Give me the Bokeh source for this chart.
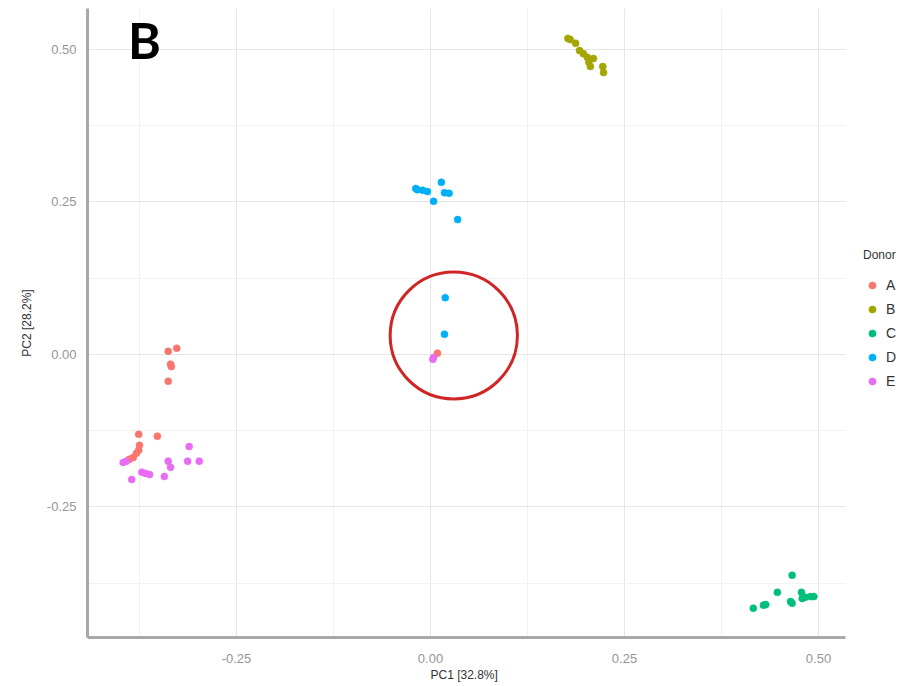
from bokeh.plotting import figure
from bokeh.models import (FixedTicker, NumeralTickFormatter, Legend, LegendItem,
                          Label, Range1d, BoxAnnotation, Title)
from bokeh.embed import file_html
from bokeh.resources import INLINE

# ---- data ----
donors = ["A", "B", "C", "D", "E"]
colors = ["#F8766D", "#A3A500", "#00BF7D", "#00B0F6", "#E76BF3"]

a_pc1 = [-0.338, -0.327, -0.335, -0.334, -0.338, -0.376, -0.352, -0.375, -0.376,
         -0.379, -0.383, -0.388, 0.009]
a_pc2 = [0.005, 0.010, -0.016, -0.020, -0.044, -0.131, -0.134, -0.149, -0.157,
         -0.162, -0.169, -0.172, 0.002]

b_pc1 = [0.177, 0.180, 0.187, 0.192, 0.197, 0.202, 0.204, 0.206, 0.222, 0.223, 0.210]
b_pc2 = [0.518, 0.516, 0.510, 0.498, 0.493, 0.487, 0.479, 0.472, 0.472, 0.462, 0.485]

c_pc1 = [0.466, 0.447, 0.432, 0.429, 0.416, 0.464, 0.466, 0.478, 0.483, 0.490, 0.494, 0.479]
c_pc2 = [-0.362, -0.390, -0.410, -0.411, -0.416, -0.405, -0.408, -0.390, -0.398,
         -0.397, -0.397, -0.400]

d_pc1 = [-0.019, -0.017, -0.010, -0.004, 0.014, 0.018, 0.024, 0.004, 0.035, 0.019, 0.018]
d_pc2 = [0.272, 0.270, 0.269, 0.267, 0.282, 0.265, 0.264, 0.251, 0.221, 0.093, 0.033]

e_pc1 = [-0.396, -0.392, -0.385, -0.372, -0.367, -0.362, -0.343, -0.338, -0.335,
         -0.311, -0.313, -0.298, 0.003, 0.004]
e_pc2 = [-0.177, -0.175, -0.205, -0.193, -0.195, -0.197, -0.200, -0.175, -0.185,
         -0.151, -0.175, -0.175, -0.008, -0.005]

x_ticks = [-0.25, 0.0, 0.25, 0.50]
x_minor = [-0.375, -0.125, 0.125, 0.375]
y_ticks = [-0.25, 0.0, 0.25, 0.50]
y_minor = [-0.375, -0.125, 0.125, 0.375]

# panel limits (ggplot panel) and the extra room on the right for the legend
x_panel = (-0.442, 0.535)
y_panel = (-0.464, 0.567)
x_view_end = 0.6108

# highlighted region (red circle)
circle_x = [0.030]
circle_y = [0.031]
circle_w = [0.164]
circle_h = [0.208]

panel_letter = "B"
x_title = "PC1 [32.8%]"
y_title = "PC2 [28.2%]"
legend_title = "Donor"

# ---- figure ----
p = figure(width=904, height=686, output_backend="svg", toolbar_location=None,
           x_range=Range1d(x_panel[0], x_view_end), y_range=Range1d(*y_panel),
           min_border_left=87, min_border_right=0, min_border_top=8,
           min_border_bottom=49)
p.outline_line_color = None
p.background_fill_color = "white"

FONT = "Liberation Sans"

for ax, ticks, minor in ((p.xaxis[0], x_ticks, x_minor), (p.yaxis[0], y_ticks, y_minor)):
    ax.ticker = FixedTicker(ticks=ticks, minor_ticks=minor)
    ax.formatter = NumeralTickFormatter(format="0.00")
    ax.axis_line_color = "#A8A8A8"
    ax.axis_line_width = 3
    ax.major_tick_line_color = None
    ax.minor_tick_line_color = None
    ax.major_label_text_font = FONT
    ax.major_label_text_font_size = "13px"
    ax.major_label_text_color = "#959595"
    ax.axis_label_text_font = FONT
    ax.axis_label_text_font_size = "12px"
    ax.axis_label_text_font_style = "normal"
    ax.axis_label_text_color = "#333333"

p.xaxis.bounds = x_panel
p.xaxis.major_label_standoff = 10
p.yaxis.axis_label = y_title
p.yaxis.major_label_standoff = 5
p.yaxis.axis_label_standoff = 10

p.add_layout(Title(text=x_title, align="left", offset=343, standoff=0,
                   text_font=FONT, text_font_size="12px", text_font_style="normal",
                   text_color="#333333"), "below")

p.xgrid.ticker = FixedTicker(ticks=x_ticks, minor_ticks=x_minor)
p.ygrid.ticker = FixedTicker(ticks=y_ticks, minor_ticks=y_minor)
for g in (p.xgrid[0], p.ygrid[0]):
    g.grid_line_color = "#E6E6E6"
    g.grid_line_width = 1
    g.minor_grid_line_color = "#F2F2F2"
    g.minor_grid_line_width = 1

# blank the area right of the ggplot panel (legend area)
p.add_layout(BoxAnnotation(left=x_panel[1], fill_color="white", fill_alpha=1,
                           line_color=None, level="underlay"))

series = [(a_pc1, a_pc2), (b_pc1, b_pc2), (c_pc1, c_pc2), (d_pc1, d_pc2), (e_pc1, e_pc2)]
renderers = []
for (xs, ys), c in zip(series, colors):
    r = p.scatter(xs, ys, size=7, fill_color=c, line_color=c, line_alpha=0.6)
    renderers.append(r)

p.ellipse(x=circle_x, y=circle_y, width=circle_w, height=circle_h,
          fill_color=None, line_color="#D02525", line_width=3)

legend = Legend(items=[LegendItem(label=d, renderers=[r]) for d, r in zip(donors, renderers)],
                title=legend_title, location=(776, 244),
                border_line_color=None, background_fill_alpha=0,
                padding=0, margin=0, spacing=0,
                glyph_width=18, glyph_height=24, label_height=24,
                label_standoff=5, title_standoff=11,
                label_text_font=FONT, label_text_font_size="14px",
                label_text_color="#333333",
                title_text_font=FONT, title_text_font_size="12px",
                title_text_font_style="normal", title_text_color="#333333")
p.add_layout(legend)

p.add_layout(Label(x=57, y=598, x_units="screen", y_units="screen", text=panel_letter,
                   text_font="Lato", text_font_style="bold", text_font_size="50px",
                   text_align="center", text_baseline="alphabetic", text_color="black"))

open("out.html", "w").write(file_html(p, INLINE))
